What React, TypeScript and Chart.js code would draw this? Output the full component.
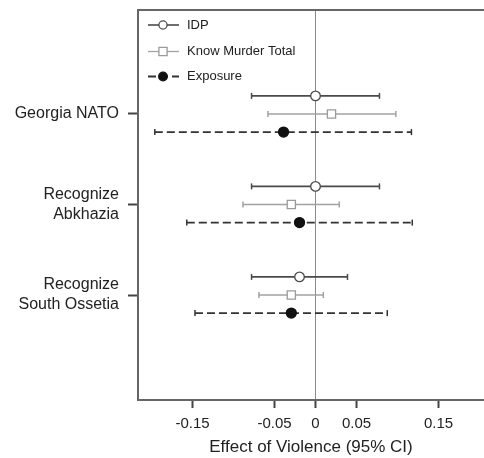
import React, { useEffect, useRef } from "react";
import { Chart, registerables } from "chart.js";

Chart.register(...registerables);

const categories = ["Georgia NATO", "Recognize\nAbkhazia", "Recognize\nSouth Ossetia"];
const seriesNames = ["IDP", "Know Murder Total", "Exposure"];

const idpEst = [0, 0, -0.0195];
const idpLo = [-0.078, -0.078, -0.078];
const idpHi = [0.078, 0.078, 0.039];

const kmtEst = [0.0195, -0.0295, -0.0295];
const kmtLo = [-0.058, -0.0885, -0.069];
const kmtHi = [0.098, 0.029, 0.0095];

const expEst = [-0.039, -0.0195, -0.0295];
const expLo = [-0.196, -0.157, -0.147];
const expHi = [0.117, 0.118, 0.0875];

const xTicks = [-0.15, -0.05, 0, 0.05, 0.15];
const xTickLabels = ["-0.15", "-0.05", "0", "0.05", "0.15"];
const xTitle = "Effect of Violence (95% CI)";

const FONT = "'Liberation Sans', Arial, Helvetica, sans-serif";
const GROUP_OFFSET = 0.2;

type Style = {
  color: string;
  markerStroke: string;
  markerFill: string;
  pointStyle: string;
  radius: number;
  width: number;
  dash: number[];
};

const styles: Style[] = [
  { color: "#4a4a4a", markerStroke: "#4a4a4a", markerFill: "#ffffff", pointStyle: "circle", radius: 4.8, width: 1.6, dash: [] },
  { color: "#a2a2a2", markerStroke: "#9a9a9a", markerFill: "#ffffff", pointStyle: "rect", radius: 5.8, width: 1.3, dash: [] },
  { color: "#333333", markerStroke: "#111111", markerFill: "#111111", pointStyle: "circle", radius: 5, width: 1.8, dash: [8, 4] },
];

const seriesData = [
  { est: idpEst, lo: idpLo, hi: idpHi },
  { est: kmtEst, lo: kmtLo, hi: kmtHi },
  { est: expEst, lo: expLo, hi: expHi },
];

const zeroPadding = (scale: any) => {
  scale.paddingTop = 0;
  scale.paddingBottom = 0;
  scale.paddingLeft = 0;
  scale.paddingRight = 0;
};

const frameAndLegend = {
  id: "frameAndLegend",
  beforeDatasetsDraw(chart: any) {
    const { ctx, chartArea } = chart;
    ctx.save();
    ctx.strokeStyle = "#666";
    ctx.lineWidth = 2;
    ctx.beginPath();
    ctx.moveTo(chartArea.left - 1, chartArea.top);
    ctx.lineTo(chartArea.right, chartArea.top);
    ctx.stroke();
    ctx.restore();
  },
  afterDraw(chart: any) {
    const { ctx, chartArea } = chart;
    const x0 = chartArea.left + 10;
    const x1 = chartArea.left + 41;
    const xm = chartArea.left + 25;
    const tx = chartArea.left + 49;
    const rows = [chartArea.top + 15, chartArea.top + 41.5, chartArea.top + 66.5];
    ctx.save();
    seriesNames.forEach((name, i) => {
      const s = styles[i];
      const y = rows[i];
      ctx.strokeStyle = s.color;
      ctx.lineWidth = s.width;
      ctx.setLineDash(s.dash);
      ctx.beginPath();
      ctx.moveTo(x0, y);
      ctx.lineTo(x1, y);
      ctx.stroke();
      ctx.setLineDash([]);
      ctx.strokeStyle = s.markerStroke;
      ctx.fillStyle = s.markerFill;
      ctx.lineWidth = 1.3;
      ctx.beginPath();
      if (s.pointStyle === "rect") {
        const h = s.radius * Math.SQRT1_2;
        ctx.rect(xm - h, y - h, 2 * h, 2 * h);
      } else {
        ctx.arc(xm, y, s.radius - 0.7, 0, Math.PI * 2);
      }
      ctx.fill();
      ctx.stroke();
      ctx.fillStyle = "#222";
      ctx.font = `13px ${FONT}`;
      ctx.textAlign = "left";
      ctx.textBaseline = "middle";
      ctx.fillText(name, tx, y);
    });
    ctx.restore();
  },
};

export default function App() {
  const ref = useRef<HTMLCanvasElement>(null);

  useEffect(() => {
    if (!ref.current) return;
    const datasets: any[] = [];
    seriesData.forEach((sd, si) => {
      const s = styles[si];
      const yOff = (si - 1) * GROUP_OFFSET;
      sd.est.forEach((_, ci) => {
        datasets.push({
          type: "line",
          label: `${seriesNames[si]} CI ${ci}`,
          data: [
            { x: sd.lo[ci], y: ci + yOff },
            { x: sd.hi[ci], y: ci + yOff },
          ],
          borderColor: s.color,
          borderWidth: s.width,
          borderDash: s.dash,
          pointStyle: "line",
          pointRotation: 90,
          pointRadius: 3,
          pointBorderColor: s.color,
          pointBorderWidth: 1.5,
          pointHoverRadius: 3,
          showLine: true,
          fill: false,
          order: 2,
        });
      });
      datasets.push({
        type: "scatter",
        label: seriesNames[si],
        data: sd.est.map((v, ci) => ({ x: v, y: ci + yOff })),
        pointStyle: s.pointStyle,
        pointRadius: s.radius,
        pointHoverRadius: s.radius,
        pointBorderColor: s.markerStroke,
        pointBackgroundColor: s.markerFill,
        pointBorderWidth: 1.3,
        order: 1,
      });
    });

    const chart = new Chart(ref.current, {
      type: "scatter",
      data: { datasets },
      options: {
        animation: false,
        responsive: false,
        events: [],
        layout: { autoPadding: false, padding: { top: 10, left: 0, right: 0, bottom: 0 } },
        plugins: { legend: { display: false }, tooltip: { enabled: false } },
        scales: {
          x: {
            type: "linear",
            min: -0.2165,
            max: 0.2055,
            afterBuildTicks: (scale: any) => {
              scale.ticks = xTicks.map((v) => ({ value: v }));
            },
            afterFit: (scale: any) => {
              scale.height = 58;
              zeroPadding(scale);
            },
            ticks: {
              autoSkip: false,
              maxRotation: 0,
              padding: 7,
              color: "#222",
              font: { family: FONT, size: 15, lineHeight: 1.2 },
              callback: (v: any) => {
                const i = xTicks.indexOf(Number(v));
                return i >= 0 ? xTickLabels[i] : "";
              },
            },
            grid: {
              drawOnChartArea: true,
              drawTicks: true,
              tickLength: 8,
              tickWidth: 2,
              tickColor: "#444",
              lineWidth: 1,
              color: (ctx: any) => (ctx.tick && ctx.tick.value === 0 ? "#8a8a8a" : "rgba(0,0,0,0)"),
            },
            border: { display: true, color: "#666", width: 2 },
            title: {
              display: true,
              text: xTitle,
              color: "#222",
              font: { family: FONT, size: 17, lineHeight: 1.2 },
              padding: { top: 0, bottom: 0 },
            },
          },
          y: {
            type: "linear",
            reverse: true,
            min: -1.149,
            max: 3.16,
            afterBuildTicks: (scale: any) => {
              scale.ticks = categories.map((_, i) => ({ value: i }));
            },
            afterFit: (scale: any) => {
              scale.width = 138;
              zeroPadding(scale);
            },
            ticks: {
              autoSkip: false,
              padding: 9,
              color: "#222",
              font: { family: FONT, size: 16, lineHeight: 1.25 },
              callback: (v: any) => {
                const c = categories[Math.round(Number(v))];
                return c ? c.split("\n") : "";
              },
            },
            grid: {
              drawOnChartArea: false,
              drawTicks: true,
              tickLength: 10,
              tickWidth: 2,
              tickColor: "#444",
            },
            border: { display: true, color: "#666", width: 2 },
          },
        },
      },
      plugins: [frameAndLegend],
    } as any);

    return () => chart.destroy();
  }, []);

  return (
    <div style={{ position: "absolute", left: 0, top: 0, width: 484, height: 458, background: "#fff" }}>
      <canvas ref={ref} width={484} height={458} style={{ display: "block" }} />
    </div>
  );
}
